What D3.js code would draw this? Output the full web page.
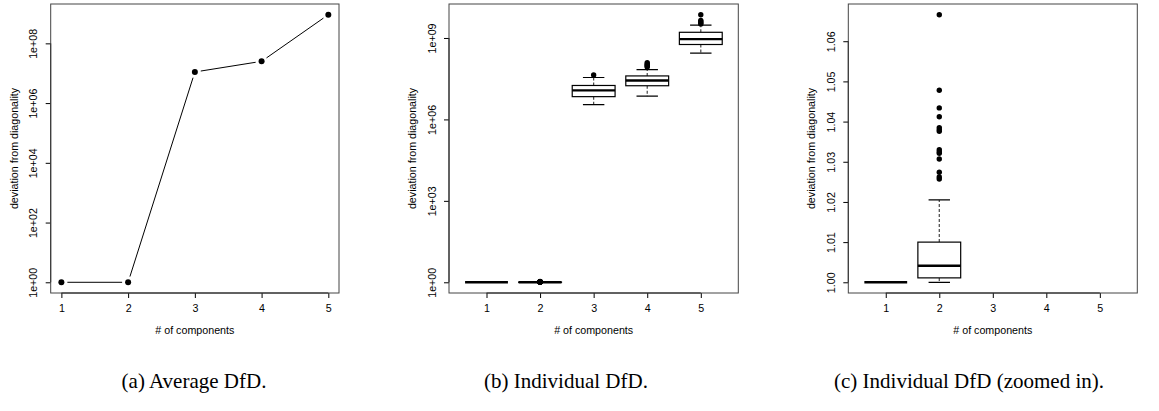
<!DOCTYPE html>
<html>
<head>
<meta charset="utf-8">
<script src="https://cdn.jsdelivr.net/npm/d3@7"></script>
<style>
	body { margin: 0; background: #fff; }
	text { font-family: 'Liberation Sans', Arial, Helvetica, sans-serif; }
</style>
</head>
<body>
<div id="app"></div>
<script>
// values
const components = [1, 2, 3, 4, 5];
const averageDfd = [1, 1, 1.1e7, 2.5e7, 9.1e8];

// boxplot summaries per number of components
const whiskerLow = [1, 1.0, 3.5e6, 7.2e6, 2.75e8];
const lowerQuartile = [1, 1.0011, 6.9e6, 1.74e7, 5.75e8];
const medianDfd = [1, 1.0041, 1.17e7, 2.7e7, 9.1e8];
const upperQuartile = [1, 1.01, 1.78e7, 4.0e7, 1.62e9];
const whiskerHigh = [1, 1.0205, 3.5e7, 6.8e7, 2.95e9];
const outliers = [
	[],
	[1.0257, 1.0262, 1.0274, 1.0307, 1.0321, 1.0325, 1.033, 1.0376, 1.038, 1.0385, 1.0412, 1.0434, 1.0478, 1.0666],
	[4.3e7],
	[8.5e7, 9.3e7, 1.0e8, 1.1e8, 1.23e8],
	[3.3e9, 3.55e9, 4.0e9, 4.4e9, 7.2e9],
];

const ticksAverage = [1e0, 1e2, 1e4, 1e6, 1e8];
const ticksIndividual = [1e0, 1e3, 1e6, 1e9];
const ticksZoomed = [1.0, 1.01, 1.02, 1.03, 1.04, 1.05, 1.06];

const yTitle = 'deviation from diagonality';
const xTitle = '# of components';
const captions = ['(a) Average DfD.', '(b) Individual DfD.', '(c) Individual DfD (zoomed in).'];

const boxes = components.map((c, i) => ({
	c,
	lo: whiskerLow[i],
	q1: lowerQuartile[i],
	med: medianDfd[i],
	q3: upperQuartile[i],
	hi: whiskerHigh[i],
	out: outliers[i],
}));

const TOP = 4;
const BOTTOM = 293;
const FONT = 10.7;

// R style axis range: data range plus 4% on each side
const pad = ([lo, hi]) => [lo - 0.04 * (hi - lo), hi + 0.04 * (hi - lo)];
const logScale = (values) => {
	const [lo, hi] = pad(d3.extent(values, Math.log10));
	return d3.scaleLog().domain([10 ** lo, 10 ** hi]).range([BOTTOM, TOP]);
};
const logFormat = (d) => `1e+${String(Math.round(Math.log10(d))).padStart(2, '0')}`;

const allIndividual = boxes.flatMap((b) => [b.lo, b.hi, ...b.out]);
const zoomedValues = [1, ...outliers[1]];

const svg = d3
	.select('div#app')
	.append('svg')
	.attr('width', 1159)
	.attr('height', 411);

const drawPanel = ({ left, right, xDomain, y, ticks, format, caption, captionX, id }) => {
	const x = d3.scaleLinear().domain(xDomain).range([left, right]);
	const g = svg.append('g');

	g.append('clipPath')
		.attr('id', id)
		.append('rect')
		.attr('x', left)
		.attr('y', TOP)
		.attr('width', right - left)
		.attr('height', BOTTOM - TOP);

	// x axis
	const xAxis = g
		.append('g')
		.attr('transform', `translate(0,${BOTTOM})`)
		.call(d3.axisBottom(x).tickValues(components).tickSize(5).tickPadding(6.4).tickFormat(d3.format('d')));
	xAxis.select('.domain').remove();
	xAxis.append('line')
		.attr('x1', x(components[0]))
		.attr('x2', x(components[components.length - 1]))
		.attr('stroke', '#000');

	// y axis, labels turned like R's default
	const yAxis = g
		.append('g')
		.attr('transform', `translate(${left},0)`)
		.call(d3.axisLeft(y).tickValues(ticks).tickSize(5).tickFormat(format));
	yAxis.select('.domain').remove();
	yAxis.append('line')
		.attr('y1', y(ticks[0]))
		.attr('y2', y(ticks[ticks.length - 1]))
		.attr('stroke', '#000');
	yAxis.selectAll('.tick text')
		.attr('x', null)
		.attr('dy', null)
		.attr('text-anchor', 'middle')
		.attr('transform', 'translate(-13.5,0) rotate(-90)');

	g.selectAll('.tick text').attr('font-size', FONT).attr('fill', '#000').attr('font-family', null);
	g.selectAll('.tick line').attr('stroke', '#000');

	// frame
	g.append('rect')
		.attr('x', left)
		.attr('y', TOP)
		.attr('width', right - left)
		.attr('height', BOTTOM - TOP)
		.attr('fill', 'none')
		.attr('stroke', '#444');

	g.append('text')
		.attr('transform', `translate(${left - 33},${(TOP + BOTTOM) / 2}) rotate(-90)`)
		.attr('text-anchor', 'middle')
		.attr('font-size', FONT)
		.text(yTitle);

	g.append('text')
		.attr('x', (left + right) / 2)
		.attr('y', 334)
		.attr('text-anchor', 'middle')
		.attr('font-size', FONT)
		.text(xTitle);

	svg.append('text')
		.attr('x', captionX)
		.attr('y', 388)
		.attr('text-anchor', 'middle')
		.style('font-family', "'Liberation Serif', 'Times New Roman', serif")
		.attr('font-size', 21)
		.text(caption);

	return { g: g.append('g').attr('clip-path', `url(#${id})`), x };
};

const drawBoxes = ({ g, x }, y) => {
	const box = g
		.selectAll('g.box')
		.data(boxes)
		.join('g')
		.attr('class', 'box')
		.attr('stroke', '#000')
		.attr('fill', 'none');

	box.append('line')
		.attr('x1', (d) => x(d.c))
		.attr('x2', (d) => x(d.c))
		.attr('y1', (d) => y(d.q3))
		.attr('y2', (d) => y(d.hi))
		.attr('stroke', '#444')
		.attr('stroke-width', 1.2)
		.attr('stroke-dasharray', '3,2');
	box.append('line')
		.attr('x1', (d) => x(d.c))
		.attr('x2', (d) => x(d.c))
		.attr('y1', (d) => y(d.q1))
		.attr('y2', (d) => y(d.lo))
		.attr('stroke', '#444')
		.attr('stroke-width', 1.2)
		.attr('stroke-dasharray', '3,2');
	box.selectAll('line.cap')
		.data((d) => [d, d].map((v, k) => ({ c: v.c, v: k ? v.hi : v.lo })))
		.join('line')
		.attr('class', 'cap')
		.attr('x1', (d) => x(d.c - 0.2))
		.attr('x2', (d) => x(d.c + 0.2))
		.attr('y1', (d) => y(d.v))
		.attr('y2', (d) => y(d.v))
		.attr('stroke-width', 1.2);
	box.append('rect')
		.attr('x', (d) => x(d.c - 0.4))
		.attr('width', (d) => x(d.c + 0.4) - x(d.c - 0.4))
		.attr('y', (d) => y(d.q3))
		.attr('height', (d) => y(d.q1) - y(d.q3))
		.attr('fill', '#fff')
		.attr('stroke-width', 1.2);
	box.append('line')
		.attr('x1', (d) => x(d.c - 0.4))
		.attr('x2', (d) => x(d.c + 0.4))
		.attr('y1', (d) => y(d.med))
		.attr('y2', (d) => y(d.med))
		.attr('stroke-width', 2.4);
	box.selectAll('circle')
		.data((d) => d.out.map((v) => ({ c: d.c, v })))
		.join('circle')
		.attr('cx', (d) => x(d.c))
		.attr('cy', (d) => y(d.v))
		.attr('r', 2.7)
		.attr('fill', '#000')
		.attr('stroke', 'none');
};

// (a) average DfD
const yA = logScale(averageDfd);
const panelA = drawPanel({
	left: 50.7,
	right: 339,
	xDomain: pad(d3.extent(components)),
	y: yA,
	ticks: ticksAverage,
	format: logFormat,
	caption: captions[0],
	captionX: 194,
	id: 'clip-a',
});
const pts = components.map((c, i) => [panelA.x(c), yA(averageDfd[i])]);
const GAP = 6;
panelA.g
	.selectAll('line.seg')
	.data(d3.pairs(pts))
	.join('line')
	.attr('class', 'seg')
	.each(function ([[x1, y1], [x2, y2]]) {
		const len = Math.hypot(x2 - x1, y2 - y1);
		const ux = (x2 - x1) / len;
		const uy = (y2 - y1) / len;
		d3.select(this)
			.attr('x1', x1 + ux * GAP)
			.attr('y1', y1 + uy * GAP)
			.attr('x2', x2 - ux * GAP)
			.attr('y2', y2 - uy * GAP);
	})
	.attr('stroke', '#000');
panelA.g
	.selectAll('circle')
	.data(pts)
	.join('circle')
	.attr('cx', (d) => d[0])
	.attr('cy', (d) => d[1])
	.attr('r', 3);

// (b) individual DfD
const yB = logScale(allIndividual);
const panelB = drawPanel({
	left: 449,
	right: 738.3,
	xDomain: pad([0.5, 5.5]),
	y: yB,
	ticks: ticksIndividual,
	format: logFormat,
	caption: captions[1],
	captionX: 566,
	id: 'clip-b',
});
drawBoxes(panelB, yB);

// (c) zoomed in
const yC = d3.scaleLinear().domain(pad(d3.extent(zoomedValues))).range([BOTTOM, TOP]);
const panelC = drawPanel({
	left: 848.3,
	right: 1137.3,
	xDomain: pad([0.5, 5.5]),
	y: yC,
	ticks: ticksZoomed,
	format: d3.format('.2f'),
	caption: captions[2],
	captionX: 969,
	id: 'clip-c',
});
drawBoxes(panelC, yC);
</script>
</body>
</html>
